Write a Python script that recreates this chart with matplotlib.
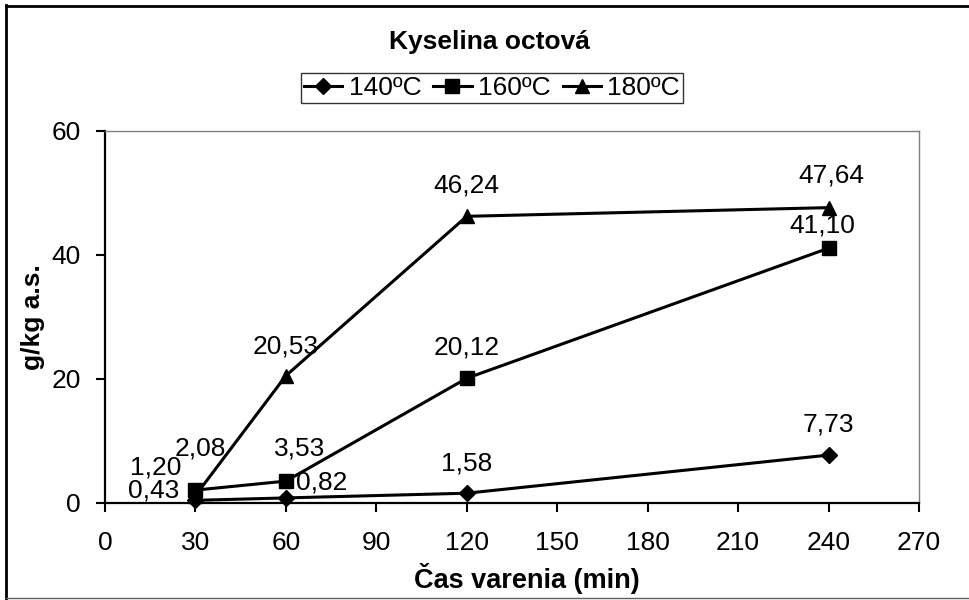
import matplotlib
matplotlib.use("Agg")
import matplotlib.pyplot as plt
from matplotlib.lines import Line2D

plt.rcParams['font.family'] = ['Liberation Sans', 'DejaVu Sans']

x = [30, 60, 120, 240]
series_names = ['140ºC', '160ºC', '180ºC']
s140 = [0.43, 0.82, 1.58, 7.73]
s160 = [2.08, 3.53, 20.12, 41.10]
s180 = [1.20, 20.53, 46.24, 47.64]
title = 'Kyselina octová'
xlabel = 'Čas varenia (min)'
ylabel = 'g/kg a.s.'
xticks = [0, 30, 60, 90, 120, 150, 180, 210, 240, 270]
yticks = [0, 20, 40, 60]

markers = ['D', 's', '^']
msizes = [8.5, 10, 10]
zorders = [3, 3.2, 3.1]
# label offsets in pixels (dx, dy up)
offsets = [
    [(-42, 10), (36, 15), (0, 30), (0, 31)],
    [(5, 42), (14, 33), (0, 31), (-6, 23)],
    [(-40, 28), (0, 29), (0, 31), (3, 32)],
]
FS = 19

fig = plt.figure(figsize=(9.7, 6.0), dpi=100)
ax = fig.add_axes([105/970, 1-503/600, (919-105)/970, (503-131)/600])

data = [s140, s160, s180]
for vals, name, m, ms, offs, z in zip(data, series_names, markers, msizes, offsets, zorders):
    ax.plot(x, vals, color='black', lw=2.2, marker=m, ms=ms, mfc='black', mec='black',
            label=name, clip_on=False, zorder=z)
    for xi, v, (dx, dy) in zip(x, vals, offs):
        ax.annotate(f'{v:.2f}'.replace('.', ','), (xi, v), xytext=(dx*0.72, dy*0.72),
                    textcoords='offset points', ha='center', va='center', fontsize=FS, zorder=4)

ax.set_xlim(0, 270)
ax.set_ylim(0, 60)
ax.set_xticks(xticks)
ax.set_yticks(yticks)
ax.tick_params(axis='both', direction='out', length=6.5, width=1.5, labelsize=FS, colors='black')
ax.tick_params(axis='x', pad=14)
ax.tick_params(axis='y', pad=11)
for s in ['left', 'bottom']:
    ax.spines[s].set_color('black')
    ax.spines[s].set_linewidth(1.6)
for s in ['top', 'right']:
    ax.spines[s].set_color('#808080')
    ax.spines[s].set_linewidth(1.0)

fig.text(489/970, 1-42/600, title, ha='center', va='center', fontsize=FS, fontweight='bold')
fig.text(527/970, 1-578/600, xlabel, ha='center', va='center', fontsize=FS+0.5, fontweight='bold')
fig.text(33/970, 1-317/600, ylabel, ha='center', va='center', fontsize=FS, fontweight='bold', rotation=90)

handles = [Line2D([0], [0], color='black', lw=2.2, marker=m, ms=ms, mfc='black', mec='black')
           for m, ms in zip(markers, msizes)]
leg = fig.legend(handles, series_names, loc='center', bbox_to_anchor=(492/970, 1-88/600),
                 ncol=3, frameon=True, fontsize=FS, handlelength=1.45, handletextpad=0.25,
                 columnspacing=0.45, borderpad=0.12, fancybox=False, borderaxespad=0)
leg.get_frame().set_edgecolor('black')
leg.get_frame().set_linewidth(1.0)

# outer chart border
fig.add_artist(Line2D([6/970, 6/970], [0, 1-5/600], transform=fig.transFigure, color='black', lw=2.0))
fig.add_artist(Line2D([6/970, 1], [1-6/600, 1-6/600], transform=fig.transFigure, color='black', lw=2.0))
fig.add_artist(Line2D([6/970, 1], [1-598/600, 1-598/600], transform=fig.transFigure, color='#606060', lw=1.0))

fig.savefig('out.png', dpi=100, facecolor='white')
